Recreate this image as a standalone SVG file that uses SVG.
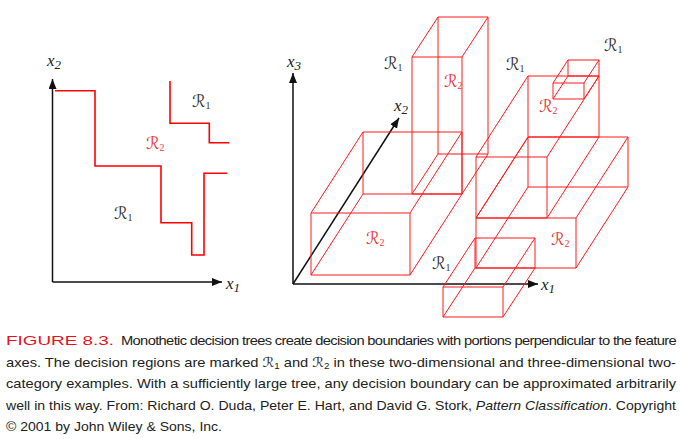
<svg xmlns="http://www.w3.org/2000/svg" width="680" height="439" viewBox="0 0 680 439">
<style>
.ax{stroke:#111;stroke-width:1.5;fill:none}
.bd{stroke:#f00;stroke-width:1.6;fill:none}
.bx{stroke:#ff1a1a;stroke-width:1;fill:none}
.lab{font-family:"Liberation Serif",serif;font-style:italic;fill:#222}
.rr{font-family:"DejaVu Sans","DejaVu Serif",sans-serif;font-size:17px}
.sb{font-family:"Liberation Serif",serif;font-size:10px}
.r1{fill:#333}
.r2{fill:#e8383a}
.cap{font-family:"Liberation Sans","Noto Sans",sans-serif;font-size:13.5px;fill:#222}
</style>
<defs>
<marker id="ah" viewBox="0 0 10 8" refX="10" refY="4" markerWidth="10" markerHeight="8" markerUnits="userSpaceOnUse" orient="auto">
<path d="M0,0L10,4L0,8Z" fill="#111"/>
</marker>
</defs>

<!-- 2D plot -->
<g id="axes2d">
<path class="ax" d="M52.5,282V79" marker-end="url(#ah)"/>
<path class="ax" d="M52.5,282H222" marker-end="url(#ah)"/>
<text class="lab" x="47" y="66" font-size="17">x<tspan font-size="13" dy="3">2</tspan></text>
<text class="lab" x="226" y="289" font-size="17">x<tspan font-size="13" dy="3">1</tspan></text>
</g>
<g id="boundary2d-a">
<path class="bd" d="M55,90.7H95V166H161V222.7H191.7V255H204V173.3H227.3"/>
</g>
<g id="boundary2d-b">
<path class="bd" d="M170,81V123.3H209.3V142.7H229.3"/>
</g>
<g id="labels2d">
<text class="rr r1" x="192" y="107">ℛ<tspan class="sb" dy="2">1</tspan></text>
<text class="rr r2" x="146" y="149">ℛ<tspan class="sb" dy="2">2</tspan></text>
<text class="rr r1" x="114" y="219">ℛ<tspan class="sb" dy="2">1</tspan></text>
</g>

<!-- 3D plot -->
<g id="axes3d">
<path class="ax" d="M293,284V73" marker-end="url(#ah)"/>
<path class="ax" d="M293,284H538" marker-end="url(#ah)"/>
<path class="ax" d="M293,284L399,118" stroke-width="1.2" marker-end="url(#ah)"/>
<text class="lab" x="287" y="67" font-size="17">x<tspan font-size="13" dy="3">3</tspan></text>
<text class="lab" x="394" y="111" font-size="17">x<tspan font-size="13" dy="3">2</tspan></text>
<text class="lab" x="541" y="290" font-size="17">x<tspan font-size="13" dy="3">1</tspan></text>
</g>
<g id="boxA">
<path class="bx" d="M311,213H410V275H311Z M363,132H462V194H363Z M311,213L363,132 M410,213L462,132 M311,275L363,194 M410,275L462,194"/>
</g>
<g id="boxB">
<path class="bx" d="M412,57H462V194H412Z M438,17H488V154H438Z M412,57L438,17 M462,57L488,17 M412,194L438,154 M462,194L488,154"/>
</g>
<g id="boxC">
<path class="bx" d="M476,157H547V218H476Z M528,76H599V137H528Z M476,157L528,76 M547,157L599,76 M476,218L528,137 M547,218L599,137"/>
</g>
<g id="boxD">
<path class="bx" d="M476,218H576V268H476Z M528,137H628V187H528Z M476,218L528,137 M576,218L628,137 M476,268L528,187 M576,268L628,187"/>
</g>
<g id="boxE">
<path class="bx" d="M553,83H584V99H553Z M568,60H599V76H568Z M553,83L568,60 M584,83L599,60 M553,99L568,76 M584,99L599,76"/>
</g>
<g id="boxF">
<path class="bx" d="M443,287H503V317H443Z M475,238H535V268H475Z M443,287L475,238 M503,287L535,238 M443,317L475,268 M503,317L535,268"/>
</g>
<g id="labels3d">
<text class="rr r1" x="384" y="69">ℛ<tspan class="sb" dy="2">1</tspan></text>
<text class="rr r2" x="444" y="87">ℛ<tspan class="sb" dy="2">2</tspan></text>
<text class="rr r1" x="506" y="70">ℛ<tspan class="sb" dy="2">1</tspan></text>
<text class="rr r1" x="604" y="51">ℛ<tspan class="sb" dy="2">1</tspan></text>
<text class="rr r2" x="539" y="112">ℛ<tspan class="sb" dy="2">2</tspan></text>
<text class="rr r2" x="366" y="244">ℛ<tspan class="sb" dy="2">2</tspan></text>
<text class="rr r1" x="432" y="269">ℛ<tspan class="sb" dy="2">1</tspan></text>
<text class="rr r2" x="551" y="245">ℛ<tspan class="sb" dy="2">2</tspan></text>
</g>

<!-- caption -->
<g id="caption">
<text class="cap" x="6" y="345" style="fill:#e8101a" textLength="108" lengthAdjust="spacingAndGlyphs">FIGURE 8.3.</text>
<text class="cap" x="121" y="345" letter-spacing="-0.6" textLength="555" lengthAdjust="spacingAndGlyphs">Monothetic decision trees create decision boundaries with portions perpendicular to the feature</text>
<text class="cap" x="6" y="366.5" textLength="670" lengthAdjust="spacingAndGlyphs">axes. The decision regions are marked <tspan font-family="DejaVu Sans,sans-serif">ℛ</tspan><tspan font-size="9" dy="2">1</tspan><tspan dy="-2"> and </tspan><tspan font-family="DejaVu Sans,sans-serif">ℛ</tspan><tspan font-size="9" dy="2">2</tspan><tspan dy="-2"> in these two-dimensional and three-dimensional two-</tspan></text>
<text class="cap" x="6" y="388" textLength="670" lengthAdjust="spacingAndGlyphs">category examples. With a sufficiently large tree, any decision boundary can be approximated arbitrarily</text>
<text class="cap" x="6" y="409.5" textLength="670" lengthAdjust="spacingAndGlyphs">well in this way. From: Richard O. Duda, Peter E. Hart, and David G. Stork, <tspan font-style="italic">Pattern Classification</tspan>. Copyright</text>
<text class="cap" x="6" y="431" textLength="216" lengthAdjust="spacingAndGlyphs">© 2001 by John Wiley &amp; Sons, Inc.</text>
</g>
</svg>
